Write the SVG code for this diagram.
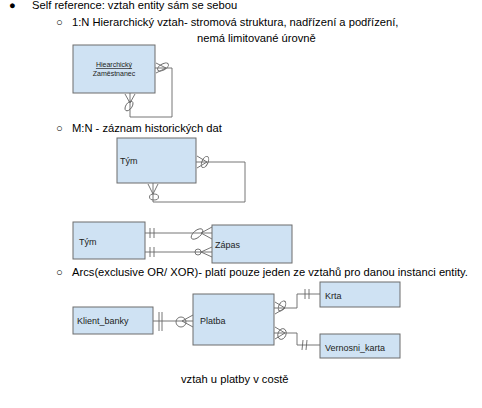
<svg xmlns="http://www.w3.org/2000/svg" width="482" height="408" viewBox="0 0 482 408">
<style>
text{font-family:"Liberation Sans",Arial,sans-serif;fill:#000}
.h{font-size:11.2px}
.b{font-size:7px;fill:#222}
.l{font-size:9px;fill:#222}
.box{fill:#cfe2f3;stroke:#6d6d6d;stroke-width:1}
.c{fill:none;stroke:#666;stroke-width:0.9}
</style>
<rect width="482" height="408" fill="#fff"/>
<g id="texts">
<text class="h" x="9" y="9" font-size="9">●</text>
<text class="h" x="32" y="9">Self reference: vztah entity sám se sebou</text>
<text class="h" x="56" y="26">○</text>
<text class="h" x="72" y="26">1:N Hierarchický vztah- stromová struktura, nadřízení a podřízení,</text>
<text class="h" x="197" y="42">nemá limitované úrovně</text>
<text class="h" x="56" y="132">○</text>
<text class="h" x="72" y="132">M:N - záznam historických dat</text>
<text class="h" x="56" y="276">○</text>
<text class="h" x="72" y="276">Arcs(exclusive OR/ XOR)- platí pouze jeden ze vztahů pro danou instanci entity.</text>
<text class="h" x="181" y="383">vztah u platby v costě</text>
</g>
<g id="connectors">
<path class="c" d="M155,68 H172 V117 H130 V93"/>
<path class="c" d="M156,63 L166,68 L156,73"/>
<ellipse class="c" cx="163" cy="67" rx="6" ry="3" transform="rotate(-30 163 67)"/>
<path class="c" d="M125,94 L130,103 L135,94"/>
<ellipse class="c" cx="129" cy="106" rx="3" ry="5.5" transform="rotate(35 129 106)"/>
<path class="c" d="M196,162 H245 V202 H153 V183"/>
<path class="c" d="M197,156 L207,162 L197,168"/>
<ellipse class="c" cx="205" cy="162" rx="3" ry="6" transform="rotate(25 205 162)"/>
<path class="c" d="M148,184 L153,194 L158,184"/>
<ellipse class="c" cx="154" cy="197" rx="4.5" ry="3"/>
<path class="c" d="M145,233 H212 M145,252 H212"/>
<path class="c" d="M150,228 V238 M154,228 V238 M150,247 V257 M154,247 V257"/>
<path class="c" d="M212,227 L201,233 L212,239"/>
<ellipse class="c" cx="197" cy="234" rx="7" ry="3.5" transform="rotate(-40 197 234)"/>
<path class="c" d="M212,247 L201,252 L212,257"/>
<circle class="c" cx="198" cy="252" r="3"/>
<path class="c" d="M153,321 H193"/>
<path class="c" d="M159,312 V331 M162,312 V331"/>
<path class="c" d="M193,315 L182,321 L193,327"/>
<circle class="c" cx="181" cy="322" r="5"/>
<path class="c" d="M274,308 H297 V294 H320"/>
<path class="c" d="M305,289 V299 M309,289 V299"/>
<path class="c" d="M275,302 L285,308 L275,314"/>
<ellipse class="c" cx="282" cy="306" rx="3" ry="5.5" transform="rotate(30 282 306)"/>
<path class="c" d="M274,333 H297 V345 H320"/>
<path class="c" d="M302,350 L303,340 M306,350 L307,340"/>
<path class="c" d="M275,327 L285,333 L275,339"/>
<ellipse class="c" cx="282" cy="334" rx="4" ry="5.5" transform="rotate(20 282 334)"/>
</g>
<g id="zamestnanec">
<rect class="box" x="73" y="45" width="82" height="48"/>
<text class="b" x="114" y="67" text-anchor="middle" text-decoration="underline">Hiearchický</text>
<text class="b" x="114" y="76" text-anchor="middle">Zaměstnanec</text>
</g>
<g id="tym1">
<rect class="box" x="117" y="138" width="79" height="45"/>
<text class="l" x="120" y="164">Tým</text>
</g>
<g id="tym2">
<rect class="box" x="73" y="222" width="72" height="37"/>
<text class="l" x="79" y="245">Tým</text>
</g>
<g id="zapas">
<rect class="box" x="212" y="225" width="80" height="38"/>
<text class="l" x="215" y="248">Zápas</text>
</g>
<g id="klient">
<rect class="box" x="73" y="307" width="80" height="27"/>
<text class="l" x="77" y="324">Klient_banky</text>
</g>
<g id="platba">
<rect class="box" x="193" y="294" width="81" height="51"/>
<text class="l" x="200" y="324">Platba</text>
</g>
<g id="krta">
<rect class="box" x="320" y="282" width="80" height="25"/>
<text class="l" x="325" y="299">Krta</text>
</g>
<g id="vernosni">
<rect class="box" x="320" y="334" width="80" height="24"/>
<text class="l" x="325" y="351">Vernosni_karta</text>
</g>
</svg>
